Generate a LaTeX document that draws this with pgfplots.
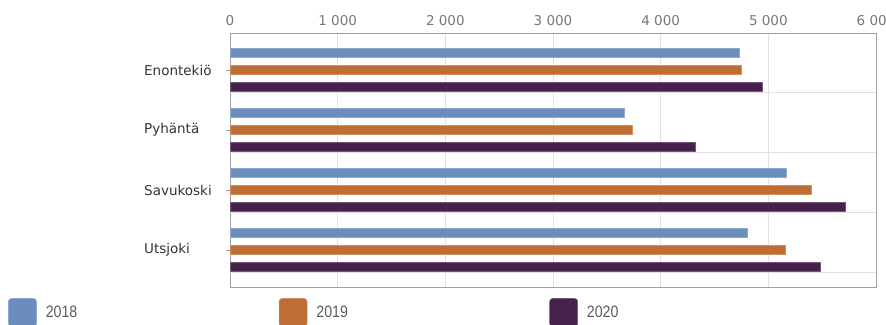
\documentclass[border=0pt]{standalone}
\usepackage{fontspec}
\usepackage{pgfplots}
\pgfplotsset{compat=1.18}
\setmainfont{DejaVu Sans}
\newfontfamily\legfont[FakeStretch=0.86]{Liberation Sans}
\definecolor{c18}{HTML}{6A8DBE}
\definecolor{c19}{HTML}{BE6D35}
\definecolor{c20}{HTML}{45214C}
\definecolor{gridc}{HTML}{E0E0E0}
\definecolor{framec}{HTML}{A0A0A0}
\definecolor{tickc}{HTML}{777777}
\definecolor{labc}{HTML}{333333}
\begin{document}
\begin{tikzpicture}
\useasboundingbox (0,0) rectangle (886pt,324pt);
\begin{axis}[
  at={(230pt,37pt)}, anchor=south west,
  scale only axis, width=646pt, height=254pt,
  xbar, bar width=9pt,
  xmin=0, xmax=6000,
  ymin=-0.6167, ymax=3.6167, y dir=reverse,
  xtick={0,1000,2000,3000,4000,5000,6000},
  xticklabels={0,1 000,2 000,3 000,4 000,5 000,6 000},
  xticklabel pos=upper,
  xmajorgrids,
  grid style={gridc, line width=0.7pt},
  xtick style={draw=none},
  ytick={0,1,2,3},
  ytick pos=left,
  yticklabels={Enontekiö,Pyhäntä,Savukoski,Utsjoki},
  tick align=outside,
  major tick length=4pt,
  ytick style={framec, line width=0.7pt},
  extra y ticks={0.3667,1.3667,2.3667,3.3667},
  extra y tick labels={},
  extra y tick style={grid=major, major tick length=0pt},
  axis line style={framec, line width=0.8pt},
  xticklabel style={font=\fontsize{13.5}{16}\selectfont, text=tickc},
  yticklabel style={font=\fontsize{13.5}{16}\selectfont, text=labc, anchor=west, xshift=-82pt, inner sep=0pt},
  legend columns=3,
  legend style={at={(axis description cs:-0.3437,-0.0433)}, anchor=north west,
    draw=none, fill=none, inner sep=0pt,
    font=\legfont\fontsize{16.5}{18}\selectfont, text=labc!80!white,
    nodes={inner sep=0pt, text width=233pt, align=left, anchor=west}},
  legend image code/.code={\draw[#1, rounded corners=3pt] (0pt,-14pt) rectangle (28pt,14pt); \path (37pt,0pt);},
]
\addplot[fill=c18, draw=c18!75!white, line width=0.6pt, bar shift=17pt] coordinates {(4729,0) (3658,1) (5169,2) (4807,3)};
\addplot[fill=c19, draw=c19!75!white, line width=0.6pt, bar shift=0pt] coordinates {(4751,0) (3736,1) (5398,2) (5162,3)};
\addplot[fill=c20, draw=c20!75!white, line width=0.6pt, bar shift=-17pt] coordinates {(4943,0) (4318,1) (5717,2) (5481,3)};
\legend{2018,2019,2020}
\end{axis}
\end{tikzpicture}
\end{document}
